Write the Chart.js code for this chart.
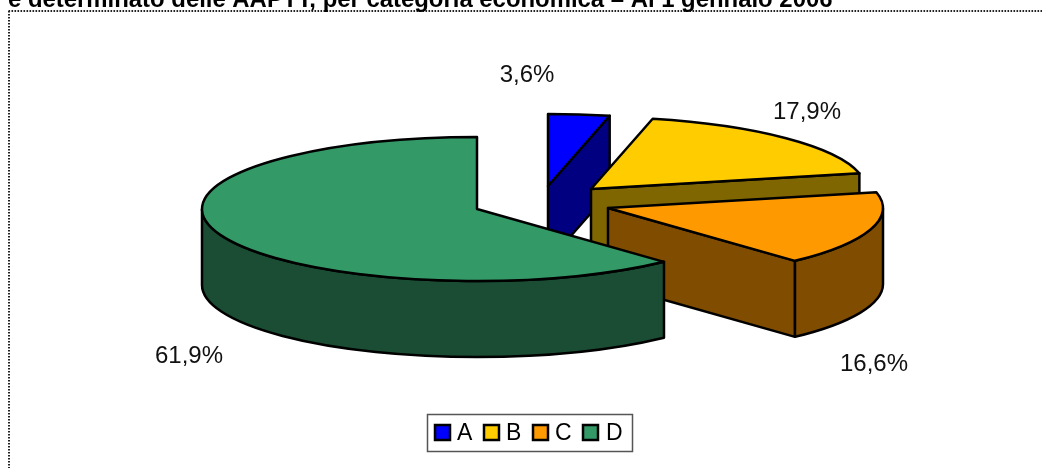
<!DOCTYPE html>
<html><head><meta charset="utf-8">
<script src="https://cdn.jsdelivr.net/npm/chart.js@4/dist/chart.umd.js"></script>
<style>html,body{margin:0;padding:0;background:#fff;overflow:hidden}canvas{display:block}</style>
</head><body><div style="width:1042px;height:468px"><canvas id="c" width="1042" height="468"></canvas></div>
<script>
const categories = ['A', 'B', 'C', 'D'];
const shares = [3.6, 17.9, 16.6, 61.9];
const valueLabels = ['3,6%', '17,9%', '16,6%', '61,9%'];
const titleText = 'e determinato delle AAPTT, per categoria economica \u2013 Al 1 gennaio 2006';

const topColors = ['#0000ff', '#ffcc00', '#ff9900', '#339966'];
const wallColors = ['#000080', '#806600', '#804d00', '#1a4d33'];
const explodeX = [71, 114, 131, 0];
const explodeY = [-23, -20, -1, 0];
const labelX = [527, 807, 874, 189];
const labelY = [75, 112, 364, 356];
const legendBoxX = [435, 484, 533, 583];
const legendTextX = [457, 506, 555, 606];
const TILT = 0.262, DEPTH = 76;
const FONT = '"Liberation Sans", Arial, sans-serif';

class Arc3D extends Chart.ArcElement {
  static id = 'arc3d';
  draw(ctx) {
    const i = this.$context.index;
    const cx = this.x + explodeX[i], cy = this.y + explodeY[i];
    const rx = this.outerRadius, ry = rx * TILT;
    const a0 = this.startAngle, a1 = this.endAngle;
    ctx.save();
    ctx.lineWidth = this.options.borderWidth;
    ctx.strokeStyle = this.options.borderColor;
    ctx.lineJoin = 'round';
    const paint = (fill) => { ctx.fillStyle = fill; ctx.fill(); ctx.stroke(); };
    const wall = (t) => {
      const x = cx + rx * Math.cos(t), y = cy + ry * Math.sin(t);
      ctx.beginPath();
      ctx.moveTo(cx, cy); ctx.lineTo(x, y); ctx.lineTo(x, y + DEPTH); ctx.lineTo(cx, cy + DEPTH);
      ctx.closePath();
      paint(wallColors[i]);
    };
    if (Math.cos(a0) < -1e-6) wall(a0);
    if (Math.cos(a1) > 1e-6) wall(a1);
    const s = Math.max(a0, 0), e = Math.min(a1, Math.PI);
    if (e > s) {
      ctx.beginPath();
      ctx.ellipse(cx, cy, rx, ry, 0, s, e);
      ctx.ellipse(cx, cy + DEPTH, rx, ry, 0, e, s, true);
      ctx.closePath();
      paint(wallColors[i]);
    }
    ctx.beginPath();
    ctx.moveTo(cx, cy);
    ctx.ellipse(cx, cy, rx, ry, 0, a0, a1);
    ctx.closePath();
    paint(this.options.backgroundColor);
    ctx.restore();
  }
}
class Pie3D extends Chart.DoughnutController {
  static id = 'pie3d';
  static defaults = { dataElementType: 'arc3d' };
}
Chart.register(Arc3D, Pie3D);

const decor = {
  id: 'decor',
  afterDraw(chart) {
    const ctx = chart.ctx;
    ctx.save();
    ctx.strokeStyle = '#222'; ctx.lineWidth = 2; ctx.setLineDash([1.6, 1.4]);
    ctx.beginPath(); ctx.moveTo(8.5, 11); ctx.lineTo(1042, 11); ctx.stroke();
    ctx.beginPath(); ctx.moveTo(9, 11); ctx.lineTo(9, 468); ctx.stroke();
    ctx.setLineDash([]);
    ctx.fillStyle = '#000';
    ctx.textBaseline = 'alphabetic'; ctx.textAlign = 'left';
    ctx.font = 'bold 23.9px ' + FONT;
    ctx.fillText(titleText, 8, 7);
    ctx.font = '24px ' + FONT; ctx.fillStyle = '#111';
    ctx.textAlign = 'center'; ctx.textBaseline = 'middle';
    valueLabels.forEach((t, i) => ctx.fillText(t, labelX[i], labelY[i]));
    // legend
    ctx.strokeStyle = '#555'; ctx.lineWidth = 1.5;
    ctx.strokeRect(427.5, 414.5, 205, 37);
    ctx.textAlign = 'left'; ctx.font = '23px ' + FONT; ctx.fillStyle = '#000';
    categories.forEach((c, i) => {
      ctx.fillStyle = topColors[i];
      ctx.strokeStyle = '#000'; ctx.lineWidth = 2.5;
      ctx.fillRect(legendBoxX[i], 425, 15, 15);
      ctx.strokeRect(legendBoxX[i], 425, 15, 15);
      ctx.fillStyle = '#000';
      ctx.fillText(c, legendTextX[i], 434);
    });
    ctx.restore();
  }
};

new Chart(document.getElementById('c'), {
  type: 'pie3d',
  data: {
    labels: categories,
    datasets: [{ data: shares, backgroundColor: topColors, borderColor: '#000', borderWidth: 2.5 }]
  },
  options: {
    responsive: false,
    animation: false,
    radius: 275,
    layout: { padding: { left: 0, right: 88, top: 0, bottom: 50 } },
    plugins: { tooltip: { enabled: false }, legend: { display: false } }
  },
  plugins: [decor]
});
</script></body></html>
